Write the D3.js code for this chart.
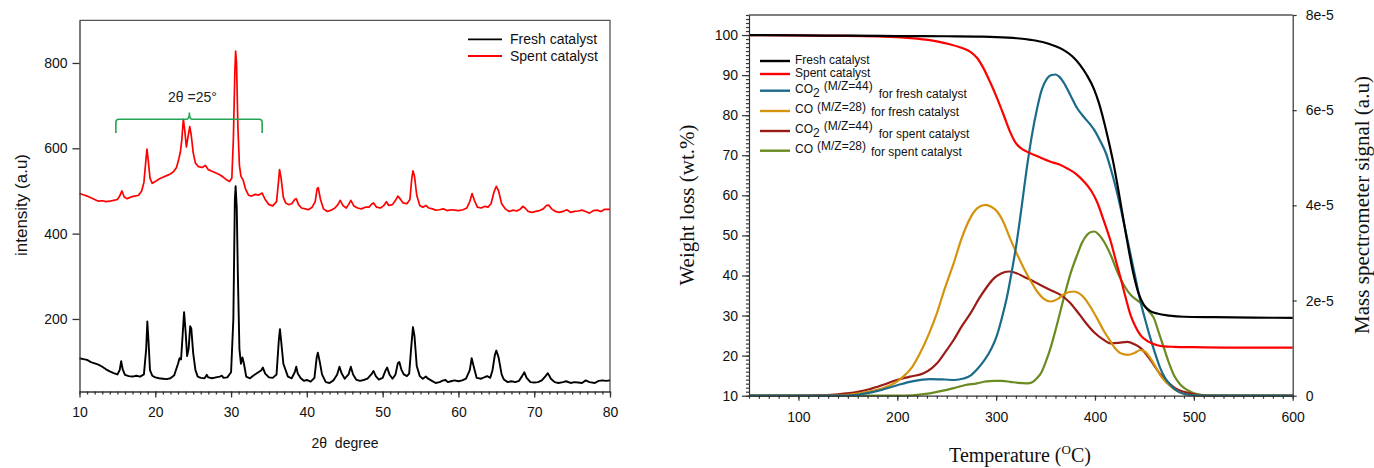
<!DOCTYPE html>
<html><head><meta charset="utf-8">
<script src="https://cdn.jsdelivr.net/npm/d3@7"></script>
<style>
body{margin:0;background:#fff;}
svg{display:block;}
.sans{font-family:"Liberation Sans",Arial,sans-serif;}
.serif{font-family:"Liberation Serif","Times New Roman",serif;}
</style>
</head><body>
<svg id="c" width="1374" height="468"></svg>
<script>
// ---------------- DATA: XRD (left panel) ----------------
const xrdXTicks = [10,20,30,40,50,60,70,80];
const xrdYTicks = [200,400,600,800];
const xrdLegend = ["Fresh catalyst","Spent catalyst"];
const xrdAnnotation = "2θ =25°";
// [2theta, intensity]
const xrdFresh = [
[10.0,108],[10.5,106],[11.0,104],[11.5,99],[12.0,96],[12.5,93],[13.0,88],[13.5,82],[14.0,77],[14.5,73],
[15.0,70],[15.3,80],[15.5,101],[15.7,82],[16.0,69],[16.5,66],[17.0,65],[17.5,67],[18.0,65],[18.5,70],
[18.8,130],[18.95,194],[19.1,150],[19.3,80],[19.6,67],[20.0,63],[20.5,61],[21.0,60],[21.5,59],[22.0,61],
[22.5,68],[23.0,95],[23.2,108],[23.4,105],[23.6,160],[23.8,216],[24.0,170],[24.2,113],[24.4,130],[24.6,183],
[24.75,178],[25.0,120],[25.3,80],[25.6,65],[26.0,62],[26.5,61],[26.8,69],[27.0,63],[27.5,61],[28.0,63],
[28.5,65],[28.8,67],[29.0,62],[29.5,63],[30.0,75],[30.3,200],[30.5,480],[30.6,511],[30.75,460],[30.9,300],
[31.1,130],[31.3,95],[31.5,110],[31.7,95],[32.0,65],[32.5,61],[33.0,68],[33.5,74],[34.0,80],[34.2,86],
[34.5,72],[35.0,63],[35.5,62],[36.0,70],[36.3,150],[36.45,176],[36.6,150],[36.9,95],[37.2,80],[37.5,65],
[38.0,61],[38.4,75],[38.6,88],[38.8,72],[39.2,61],[39.6,55],[40.0,57],[40.5,53],[41.0,62],[41.3,110],
[41.45,121],[41.7,100],[42.0,70],[42.5,52],[43.0,50],[43.5,56],[44.0,70],[44.3,88],[44.6,72],[45.0,60],
[45.5,70],[45.8,88],[46.1,70],[46.5,58],[47.0,55],[47.5,57],[48.0,60],[48.5,70],[48.8,78],[49.1,66],
[49.5,58],[50.0,62],[50.4,80],[50.6,86],[50.9,70],[51.3,60],[51.7,70],[52.0,96],[52.2,99],[52.5,80],
[52.8,70],[53.2,66],[53.5,72],[53.8,140],[54.0,181],[54.2,160],[54.5,90],[54.9,66],[55.3,60],[55.7,65],
[56.0,60],[56.5,55],[57.0,50],[57.5,52],[58.0,56],[58.3,57],[58.6,52],[59.0,54],[59.5,56],[60.0,54],
[60.5,56],[61.0,60],[61.5,80],[61.75,108],[62.0,90],[62.4,62],[63.0,60],[63.5,64],[63.8,66],[64.2,62],
[64.5,80],[64.8,115],[65.0,126],[65.3,110],[65.7,70],[66.0,58],[66.5,52],[67.0,54],[67.5,52],[68.0,55],
[68.4,66],[68.7,75],[69.0,62],[69.5,52],[70.0,51],[70.5,52],[71.0,56],[71.5,66],[71.8,73],[72.2,60],
[72.7,52],[73.2,50],[73.8,52],[74.2,54],[74.8,50],[75.3,52],[75.8,51],[76.3,50],[76.8,56],[77.3,52],
[78.0,50],[78.5,55],[79.0,56],[79.5,55],[80.0,56]
];
const xrdSpent = [
[10.0,494],[10.5,491],[11.0,488],[11.5,484],[12.0,480],[12.5,476],[13.0,477],[13.5,475],[14.0,476],[14.5,478],
[15.0,480],[15.3,488],[15.6,500],[15.9,486],[16.3,482],[16.8,486],[17.3,488],[17.8,490],[18.2,500],[18.5,520],
[18.75,570],[18.9,598],[19.05,575],[19.3,530],[19.6,518],[20.0,522],[20.5,528],[21.0,532],[21.5,536],[22.0,540],
[22.4,545],[22.8,555],[23.1,575],[23.3,590],[23.5,620],[23.7,668],[23.9,640],[24.1,603],[24.3,625],[24.55,651],
[24.75,630],[25.0,590],[25.3,565],[25.7,557],[26.2,555],[26.6,560],[27.0,550],[27.5,546],[28.0,542],[28.5,538],
[29.0,532],[29.5,525],[29.8,522],[30.1,530],[30.3,620],[30.5,780],[30.6,828],[30.72,800],[30.9,650],[31.1,560],
[31.3,535],[31.6,525],[31.9,505],[32.3,490],[32.7,488],[33.2,492],[33.6,490],[34.1,495],[34.5,480],[35.0,468],
[35.5,465],[36.0,475],[36.25,520],[36.4,550],[36.6,530],[36.9,485],[37.2,472],[37.6,468],[38.0,470],[38.4,480],
[38.6,482],[38.9,468],[39.3,460],[39.8,458],[40.2,456],[40.7,462],[41.1,475],[41.35,505],[41.5,508],[41.8,480],
[42.2,458],[42.7,452],[43.2,455],[43.7,460],[44.1,468],[44.4,478],[44.8,465],[45.2,460],[45.5,468],[45.8,478],
[46.2,465],[46.7,460],[47.2,458],[47.7,462],[48.2,462],[48.6,470],[48.8,472],[49.2,462],[49.7,460],[50.1,465],
[50.5,475],[50.8,466],[51.3,468],[51.7,478],[52.0,488],[52.3,482],[52.7,472],[53.2,470],[53.6,480],[53.85,530],
[54.0,547],[54.2,535],[54.5,490],[54.9,466],[55.3,462],[55.7,466],[56.1,460],[56.6,458],[57.0,455],[57.5,456],
[58.0,458],[58.5,454],[59.0,456],[59.5,455],[60.0,454],[60.6,456],[61.1,460],[61.5,475],[61.8,494],[62.1,478],
[62.5,462],[63.0,460],[63.5,464],[63.9,462],[64.3,470],[64.7,498],[65.0,511],[65.3,500],[65.7,470],[66.2,458],
[66.7,452],[67.2,455],[67.7,453],[68.2,458],[68.5,464],[68.8,460],[69.2,452],[69.7,450],[70.2,452],[70.7,454],
[71.2,458],[71.6,466],[71.9,467],[72.3,458],[72.8,452],[73.3,450],[73.8,452],[74.3,456],[74.8,450],[75.3,452],
[75.8,453],[76.3,455],[76.8,452],[77.3,448],[77.8,454],[78.3,455],[78.8,452],[79.3,457],[80.0,457]
];

// ---------------- DATA: TGA-MS (right panel) ----------------
const tgaXTicks = [100,200,300,400,500,600];
const tgaYTicks = [10,20,30,40,50,60,70,80,90,100];
const msTicks = [0,2,4,6,8];               // x 1e-5
const msTickLabels = ["0","2e-5","4e-5","6e-5","8e-5"];
// [T (°C), weight %]
const tgaFresh = [
[50,100.0],[100,99.9],[150,99.85],[200,99.75],[250,99.7],[280,99.6],[300,99.5],[321,99.2],[335,98.8],[348,98.2],
[358,97.4],[368,96.3],[377,94.7],[385,92.5],[392,89.9],[399,86.5],[404,83.0],[409,78.5],[414,73.3],[419,67.6],
[424,60.8],[429,53.6],[434,46.6],[439,40.3],[444,35.6],[449.5,32.6],[456,31.1],[463,30.5],[475,30.0],[490,29.7],
[520,29.6],[560,29.5],[600,29.4]
];
const tgaSpent = [
[50,100],[100,99.9],[150,99.8],[180,99.65],[200,99.5],[220,99.1],[240,98.4],[253,97.7],[264,96.9],[274,95.8],
[281,94.2],[287,91.8],[294,88.2],[301,84.2],[308,79.8],[314,75.9],[320,73.0],[326,71.6],[331,70.9],[343,69.6],
[355,68.4],[364,67.7],[372,66.7],[381,65.3],[389,63.4],[396,61.2],[402,58.4],[409,53.6],[416,48.4],[421,43.8],
[426,39.3],[431,34.5],[436,30.1],[441,27.2],[446,25.1],[454,23.5],[463,22.6],[470,22.3],[480,22.2],[500,22.1],
[540,22.0],[600,22.0]
];
// [T (°C), MS signal x 1e-5]
const co2Fresh = [
[50,0],[140,0],[160,0.02],[180,0.1],[200,0.22],[215,0.3],[233,0.35],[248,0.34],[258,0.33],[267,0.36],
[274,0.42],[281,0.56],[288,0.74],[295,0.98],[301,1.28],[306,1.65],[311,2.08],[316,2.63],[321,3.25],[326,4.0],
[331,4.78],[336,5.45],[341.5,6.04],[346,6.42],[351.6,6.67],[356,6.74],[360,6.75],[364,6.7],[368.4,6.58],[375,6.32],
[382,6.04],[389,5.85],[395.5,5.69],[400,5.56],[405.6,5.34],[411,5.1],[415.8,4.78],[421,4.38],[426,3.94],[431,3.45],
[436,2.96],[441,2.47],[446,1.98],[451,1.58],[456,1.21],[461,0.88],[466,0.58],[471,0.37],[476.5,0.22],[483,0.1],
[490,0.04],[500,0.01],[520,0],[600,0]
];
const coFresh = [
[50,0],[130,0],[150,0.02],[170,0.08],[186,0.16],[200,0.3],[206,0.4],[215,0.6],[223,0.89],[232,1.3],
[240,1.73],[248,2.25],[257,2.78],[265,3.3],[273,3.7],[281,3.94],[289,4.01],[295,3.97],[301,3.87],[308,3.62],
[314,3.31],[321,2.98],[328,2.68],[335,2.41],[341.5,2.19],[348,2.04],[355,1.98],[362,2.03],[368,2.12],[374,2.18],
[378.6,2.19],[384,2.15],[389,2.06],[395,1.88],[402,1.63],[409,1.36],[416,1.13],[421,0.98],[426,0.89],[433,0.86],
[440,0.9],[446,0.96],[451,0.92],[456,0.79],[461,0.62],[466,0.43],[473,0.26],[480,0.14],[488,0.05],[497,0.01],
[510,0],[600,0]
];
const co2Spent = [
[50,0],[100,0],[120,0.01],[140,0.03],[160,0.08],[172.6,0.14],[186,0.23],[199.6,0.33],[213,0.4],[226.6,0.47],
[235,0.58],[240.2,0.68],[248,0.9],[257,1.17],[265,1.45],[274,1.73],[283,2.05],[290.8,2.29],[298,2.47],[305,2.57],
[312.7,2.61],[320,2.58],[328,2.5],[338,2.4],[348.2,2.29],[357,2.2],[365.1,2.12],[374,1.97],[382,1.77],[390,1.55],
[398.8,1.34],[407,1.2],[415.8,1.1],[424,1.11],[432.7,1.13],[440,1.08],[446.2,1.0],[453,0.84],[459.6,0.645],[466,0.45],
[473.2,0.29],[481,0.16],[490,0.08],[500,0.03],[510,0.01],[520,0],[600,0]
];
const coSpent = [
[50,0],[200,0],[215,0.01],[233,0.05],[245,0.1],[257,0.16],[268,0.22],[280.7,0.26],[290,0.3],[298,0.31],
[306,0.31],[314.4,0.29],[322,0.27],[331.3,0.26],[337,0.29],[341.5,0.37],[346,0.5],[350,0.7],[355,1.0],[361,1.45],
[368.4,2.05],[375,2.55],[382,2.96],[387,3.22],[392.1,3.38],[396,3.44],[399.5,3.45],[404,3.38],[409,3.24],[416,2.95],
[422.5,2.61],[429,2.33],[436,2.12],[443,2.0],[449.5,1.9],[455,1.76],[459.6,1.63],[464,1.36],[469.8,1.0],[475,0.68],
[479.9,0.43],[486,0.24],[493.4,0.12],[500,0.05],[510,0.01],[520,0],[600,0]
];

// ---------------- DRAW ----------------
const svg = d3.select("#c");
const AX = "#333", FR = "#555";

// ===== Left panel (XRD) =====
const L = {x0:79.5, x1:610, y0:20.3, y1:391.5};
const xL = d3.scaleLinear().domain([10,80]).range([L.x0,L.x1]);
const yL = d3.scaleLinear().domain([30,900]).range([L.y1,L.y0]);
const gL = svg.append("g").attr("class","sans");

gL.append("path").attr("d",`M${L.x0},${L.y0}H${L.x1}V${L.y1}`).attr("fill","none").attr("stroke",FR).attr("stroke-width",1.3);

const lineL = d3.line().x(d=>xL(d[0])).y(d=>yL(d[1]));
gL.append("path").datum(xrdSpent).attr("d",lineL).attr("fill","none").attr("stroke","#ff0000").attr("stroke-width",1.7).attr("stroke-linejoin","round");
gL.append("path").datum(xrdFresh).attr("d",lineL).attr("fill","none").attr("stroke","#000").attr("stroke-width",1.9).attr("stroke-linejoin","round");

const axB = gL.append("g").attr("transform",`translate(0,${L.y1})`)
  .call(d3.axisBottom(xL).tickValues(xrdXTicks).tickSize(6).tickPadding(10).tickSizeOuter(0));
const axBm = gL.append("g").attr("transform",`translate(0,${L.y1})`)
  .call(d3.axisBottom(xL).tickValues(d3.range(10,81,1)).tickSize(3).tickFormat(""));
axBm.select(".domain").remove();
const axLf = gL.append("g").attr("transform",`translate(${L.x0},0)`)
  .call(d3.axisLeft(yL).tickValues(xrdYTicks).tickSize(7).tickPadding(5).tickSizeOuter(0));
[axB,axBm,axLf].forEach(a=>{
  a.selectAll("path,line").attr("stroke",AX).attr("stroke-width",1.3);
  a.selectAll("text").attr("font-family","Liberation Sans, Arial, sans-serif").attr("font-size",14).attr("fill","#111");
});

gL.append("text").attr("x",345).attr("y",448).attr("text-anchor","middle").attr("font-size",14).attr("fill","#111")
  .attr("xml:space","preserve").style("white-space","pre").text("2θ  degree");
gL.append("text").attr("transform","translate(27,205) rotate(-90)").attr("text-anchor","middle").attr("font-size",17).attr("fill","#111")
  .text("intensity (a.u)");

const legL = [{c:"#000",t:xrdLegend[0],y:39.3},{c:"#ff0000",t:xrdLegend[1],y:56}];
legL.forEach(d=>{
  gL.append("line").attr("x1",468).attr("x2",502).attr("y1",d.y).attr("y2",d.y).attr("stroke",d.c).attr("stroke-width",1.8);
  gL.append("text").attr("x",510).attr("y",d.y+5).attr("font-size",14).attr("fill","#111").text(d.t);
});

const br = {a:14.8, b:34.1, c:24.5, yh:668, ye:636, yp:684};
const bx0=xL(br.a), bx1=xL(br.b), bxc=xL(br.c), byh=yL(br.yh), bye=yL(br.ye), byp=yL(br.yp), r=3;
gL.append("path").attr("d",
  `M${bx0},${bye}V${byh+r}Q${bx0},${byh} ${bx0+r},${byh}H${bxc-r}Q${bxc},${byh} ${bxc},${byp}`+
  `Q${bxc},${byh} ${bxc+r},${byh}H${bx1-r}Q${bx1},${byh} ${bx1},${byh+r}V${bye}`)
  .attr("fill","none").attr("stroke","#22a452").attr("stroke-width",1.6);
gL.append("text").attr("x",xL(24.9)).attr("y",yL(708)).attr("text-anchor","middle").attr("font-size",14).attr("fill","#222").text(xrdAnnotation);

// ===== Right panel (TGA-MS) =====
const R = {x0:749, x1:1292.7, y0:15, y1:395.7};
const xR = d3.scaleLinear().domain([50,600]).range([R.x0,R.x1]);
const yW = d3.scaleLinear().domain([10,105]).range([R.y1,R.y0]);
const yM = d3.scaleLinear().domain([0,8]).range([R.y1,R.y0]);
const gR = svg.append("g").attr("class","sans");

gR.append("line").attr("x1",R.x0).attr("x2",R.x1).attr("y1",R.y0).attr("y2",R.y0).attr("stroke",FR).attr("stroke-width",1.3);

const curve = d3.curveMonotoneX;
const lineW = d3.line().x(d=>xR(d[0])).y(d=>yW(d[1])).curve(curve);
const lineM = d3.line().x(d=>xR(d[0])).y(d=>yM(d[1])).curve(curve);
const C = {fresh:"#000", spent:"#ff0000", co2f:"#1b6b8b", cof:"#d4930c", co2s:"#9b1b16", cos:"#6b8a22"};
const msSeries = [
  {d:coSpent,c:C.cos},{d:co2Spent,c:C.co2s},{d:coFresh,c:C.cof},{d:co2Fresh,c:C.co2f}
];
msSeries.forEach(s=>{
  gR.append("path").datum(s.d).attr("d",lineM).attr("fill","none").attr("stroke",s.c).attr("stroke-width",2.2);
});
gR.append("path").datum(tgaSpent).attr("d",lineW).attr("fill","none").attr("stroke",C.spent).attr("stroke-width",2.2);
gR.append("path").datum(tgaFresh).attr("d",lineW).attr("fill","none").attr("stroke",C.fresh).attr("stroke-width",2.2);

const rb = gR.append("g").attr("transform",`translate(0,${R.y1})`)
  .call(d3.axisBottom(xR).tickValues(tgaXTicks).tickSize(5).tickPadding(11).tickSizeOuter(0));
const rbm = gR.append("g").attr("transform",`translate(0,${R.y1})`)
  .call(d3.axisBottom(xR).tickValues(d3.range(50,601,10)).tickSize(3).tickFormat(""));
rbm.select(".domain").remove();
const rl = gR.append("g").attr("transform",`translate(${R.x0},0)`)
  .call(d3.axisLeft(yW).tickValues(tgaYTicks).tickSize(7).tickPadding(4).tickSizeOuter(0));
const rlm = gR.append("g").attr("transform",`translate(${R.x0},0)`)
  .call(d3.axisLeft(yW).tickValues(d3.range(10,106,1)).tickSize(3).tickFormat(""));
rlm.select(".domain").remove();
const rr = gR.append("g").attr("transform",`translate(${R.x1},0)`)
  .call(d3.axisRight(yM).tickValues(msTicks).tickSize(4).tickPadding(9).tickSizeOuter(0)
    .tickFormat((d,i)=>msTickLabels[i]));
[rb,rbm,rl,rlm,rr].forEach(a=>{
  a.selectAll("path,line").attr("stroke",AX).attr("stroke-width",1.2);
  a.selectAll("text").attr("font-family","Liberation Sans, Arial, sans-serif").attr("font-size",14).attr("fill","#111");
});

const tx = gR.append("text").attr("class","serif").attr("x",1020).attr("y",462).attr("text-anchor","middle").attr("font-size",20).attr("fill","#111");
tx.append("tspan").text("Temperature (");
tx.append("tspan").attr("font-size",13).attr("dy",-8).text("O");
tx.append("tspan").attr("dy",8).text("C)");
gR.append("text").attr("class","serif").attr("transform","translate(694,205) rotate(-90)").attr("text-anchor","middle")
  .attr("font-size",21).attr("fill","#111").text("Weight loss (wt.%)");
gR.append("text").attr("class","serif").attr("transform","translate(1369,205) rotate(-90)").attr("text-anchor","middle")
  .attr("font-size",21).attr("fill","#111").text("Mass spectrometer signal (a.u)");

const legR = [
  {c:C.fresh, y:61,  label:"Fresh catalyst"},
  {c:C.spent, y:74,  label:"Spent catalyst"},
  {c:C.co2f,  y:90.7,gas:"CO2", mz:"(M/Z=44)", f:"for fresh catalyst"},
  {c:C.cof,   y:111, gas:"CO",  mz:"(M/Z=28)", f:"for fresh catalyst"},
  {c:C.co2s,  y:131, gas:"CO2", mz:"(M/Z=44)", f:"for spent catalyst"},
  {c:C.cos,   y:150.7,gas:"CO", mz:"(M/Z=28)", f:"for spent catalyst"}
];
legR.forEach(d=>{
  gR.append("line").attr("x1",760).attr("x2",790).attr("y1",d.y).attr("y2",d.y).attr("stroke",d.c).attr("stroke-width",2.4);
  const t = gR.append("text").attr("x",795).attr("font-size",12).attr("fill","#111");
  if(d.label){ t.attr("y",d.y+3).text(d.label); return; }
  t.attr("y",d.y+2);
  if(d.gas==="CO2"){
    t.append("tspan").text("CO");
    t.append("tspan").attr("dy",4).text("2");
    t.append("tspan").attr("dy",-6.7).attr("dx",4).text(d.mz);
    t.append("tspan").attr("dy",7.7).attr("dx",6).text(d.f);
  } else {
    t.append("tspan").text("CO");
    t.append("tspan").attr("dy",-2.3).attr("dx",4).text(d.mz);
    t.append("tspan").attr("dy",5.7).attr("dx",5).text(d.f);
  }
});
</script>
</body></html>
